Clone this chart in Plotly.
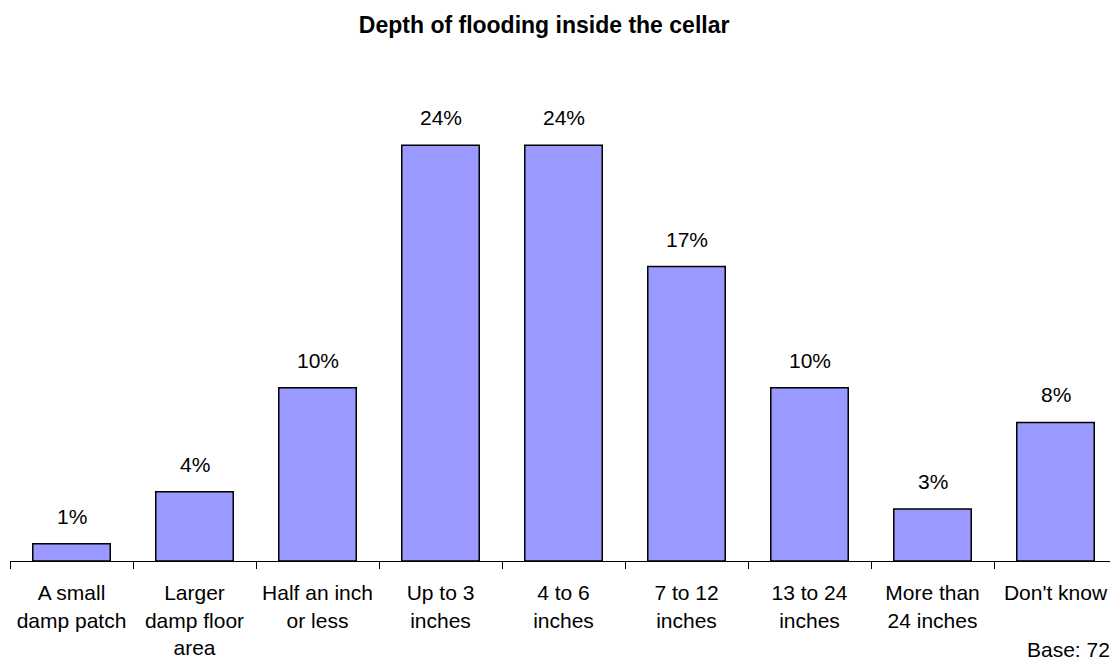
import plotly.graph_objects as go

# survey categories and share of respondents (%)
categories = [
    "A small<br>damp patch",
    "Larger<br>damp floor<br>area",
    "Half an inch<br>or less",
    "Up to 3<br>inches",
    "4 to 6<br>inches",
    "7 to 12<br>inches",
    "13 to 24<br>inches",
    "More than<br>24 inches",
    "Don't know",
]
percent = [1, 4, 10, 24, 24, 17, 10, 3, 8]
labels = [f"{v}%" for v in percent]

FONT = "Liberation Sans, Arial, sans-serif"

fig = go.Figure()

fig.add_trace(go.Bar(
    x=categories,
    y=percent,
    width=0.63,
    marker=dict(color="#9999FF", line=dict(color="#000000", width=1.5)),
    hoverinfo="x+y",
))

# value labels above each bar
for cat, val, lab in zip(categories, percent, labels):
    fig.add_annotation(
        x=cat, y=val, text=lab,
        showarrow=False, yanchor="bottom", yshift=14,
        font=dict(family=FONT, size=21, color="#000000"),
    )

fig.add_annotation(
    text="Base: 72", xref="paper", yref="paper",
    x=1, y=-0.182, xanchor="right", yanchor="middle",
    xshift=-6, borderpad=0, showarrow=False,
    font=dict(family=FONT, size=21, color="#000000"),
)

# page body adds an 8px offset, so the figure is 8px smaller
fig.update_layout(
    title=dict(
        text="<b>Depth of flooding inside the cellar</b>",
        x=0.483, xanchor="center", y=0.974, yanchor="middle",
        font=dict(family=FONT, size=23, color="#000000"),
    ),
    width=1110,
    height=654,
    margin=dict(l=2, r=1, t=68, b=101),
    paper_bgcolor="white",
    plot_bgcolor="white",
    showlegend=False,
    font=dict(family=FONT, size=21, color="#000000"),
)

fig.update_xaxes(
    type="category",
    showline=True, linecolor="#000000", linewidth=1,
    ticks="outside", tickson="boundaries", ticklen=7,
    tickcolor="#000000", tickwidth=1,
    ticklabelstandoff=13,
    tickfont=dict(family=FONT, size=21, color="#000000"),
    showgrid=False,
)
fig.update_yaxes(
    range=[0, 28],
    visible=False,
    showgrid=False,
)

fig.write_html("out.html")
